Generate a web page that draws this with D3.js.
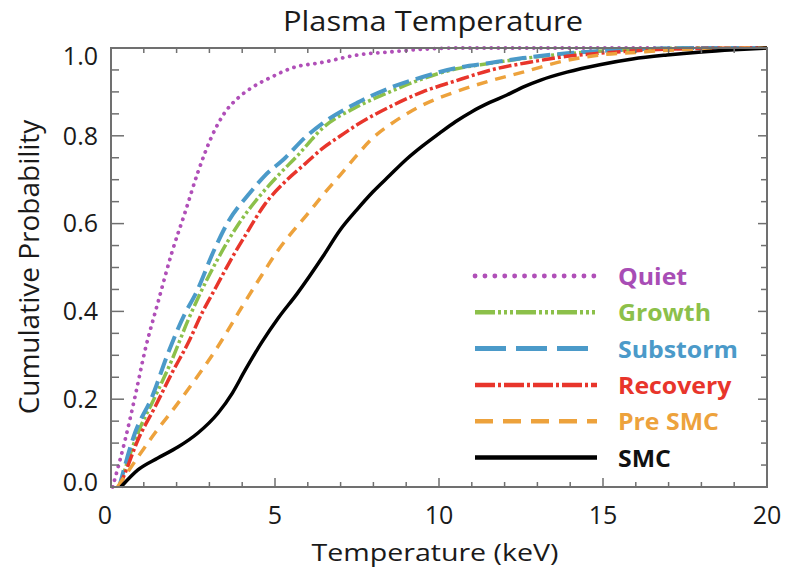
<!DOCTYPE html>
<html>
<head>
<meta charset="utf-8">
<script src="https://cdn.jsdelivr.net/npm/d3@7"></script>
<style>
  body { margin: 0; background: #fff; }
  text { font-family: "Open Sans", "Noto Sans", sans-serif; }
</style>
</head>
<body>
<div id="chart"></div>
<script>
// temperature (keV) and cumulative probability for each phase
const quietT = [0.05, 0.43, 0.73, 1.04, 1.43, 1.86, 2.26, 2.65, 3.08, 3.48, 3.87, 4.3, 4.9, 5.5, 6.5, 7.5, 8.5, 9.5, 10.5, 20];
const quietP = [0, 0.107, 0.205, 0.312, 0.42, 0.535, 0.626, 0.717, 0.80, 0.854, 0.886, 0.91, 0.934, 0.954, 0.968, 0.984, 0.991, 0.997, 1.0, 1.0];

const growthT = [0.25, 0.82, 1.34, 1.86, 2.35, 2.65, 3.26, 3.87, 4.48, 5.1, 5.7, 6.46, 7.5, 8.5, 9.5, 10.5, 11.55, 12.56, 13.9, 15, 16, 18, 20];
const growthP = [0, 0.123, 0.205, 0.29, 0.38, 0.43, 0.52, 0.597, 0.658, 0.71, 0.756, 0.818, 0.866, 0.9, 0.93, 0.952, 0.965, 0.976, 0.987, 0.993, 0.997, 1.0, 1.0];

const substormT = [0.25, 0.73, 1.25, 1.74, 2.26, 2.56, 3.17, 3.57, 4.18, 4.7, 5.3, 5.9, 6.46, 7.5, 8.5, 9.5, 10.5, 11.55, 12.56, 13.9, 14.9, 16, 18, 20];
const substormP = [0, 0.123, 0.205, 0.305, 0.396, 0.437, 0.544, 0.604, 0.665, 0.71, 0.749, 0.795, 0.829, 0.875, 0.909, 0.934, 0.954, 0.966, 0.977, 0.988, 0.993, 0.997, 1.0, 1.0];

const recoveryT = [0.25, 0.43, 0.82, 1.34, 1.86, 2.35, 2.8, 3.2, 3.65, 4.15, 4.7, 5.3, 5.9, 6.46, 7.0, 7.5, 8.5, 9.5, 10.5, 11.7, 12.8, 13.9, 14.9, 16, 18, 20];
const recoveryP = [0, 0.032, 0.107, 0.182, 0.26, 0.328, 0.40, 0.455, 0.517, 0.58, 0.645, 0.695, 0.735, 0.772, 0.80, 0.825, 0.866, 0.9, 0.925, 0.952, 0.968, 0.981, 0.988, 0.994, 0.999, 1.0];

const preSmcT = [0.2, 0.82, 1.34, 1.95, 2.56, 3.26, 3.99, 4.6, 5.1, 5.46, 5.97, 6.46, 6.98, 7.5, 7.98, 8.5, 9.5, 10.5, 11.55, 12.56, 13.9, 14.9, 16, 17, 18, 20];
const preSmcP = [0, 0.068, 0.123, 0.182, 0.244, 0.32, 0.41, 0.483, 0.54, 0.575, 0.62, 0.665, 0.71, 0.756, 0.795, 0.825, 0.87, 0.9, 0.925, 0.945, 0.972, 0.984, 0.99, 0.995, 0.998, 1.0];

const smcT = [0.3, 0.82, 1.43, 2.04, 2.65, 3.26, 3.7, 4.09, 4.6, 5.1, 5.67, 6.46, 6.98, 7.5, 7.98, 8.5, 9.0, 9.5, 10.0, 10.5, 11.0, 11.55, 12.07, 12.56, 13.1, 13.9, 14.9, 15.9, 16.95, 18, 19, 20];
const smcP = [0, 0.039, 0.066, 0.091, 0.123, 0.168, 0.214, 0.266, 0.33, 0.385, 0.44, 0.525, 0.585, 0.632, 0.672, 0.71, 0.746, 0.777, 0.805, 0.832, 0.855, 0.876, 0.893, 0.911, 0.927, 0.945, 0.962, 0.975, 0.984, 0.991, 0.996, 1.0];

const seriesNames = ["Quiet", "Growth", "Substorm", "Recovery", "Pre SMC", "SMC"];
const seriesT = [quietT, growthT, substormT, recoveryT, preSmcT, smcT];
const seriesP = [quietP, growthP, substormP, recoveryP, preSmcP, smcP];

const xTicks = [0, 5, 10, 15, 20];
const yTicks = [0, 0.2, 0.4, 0.6, 0.8, 1.0];

const width = 793, height = 573;
const margin = { top: 48, right: 26, bottom: 86, left: 111 };
const innerW = width - margin.left - margin.right;
const innerH = height - margin.top - margin.bottom;

// line looks for each series (plot + legend)
const styles = [
    { color: "#b04fb8", w: 3.8, dash: "0.1 7", legDash: "0.1 9.8", cap: "round" },
    { color: "#8cc04a", w: 3.5, dash: "13 3 3 3 3 3", legDash: "20 3 3 3 3 3 3 3", cap: "butt" },
    { color: "#4b9ac9", w: 4, dash: "17 7", legDash: "31 10", cap: "butt" },
    { color: "#e8352b", w: 3.5, dash: "13 3 3 3", legDash: "20 3 3 3", cap: "butt" },
    { color: "#eda23c", w: 3.5, dash: "11 8", legDash: "18 10", cap: "butt" },
    { color: "#000000", w: 3.5, dash: null, legDash: null, cap: "butt" }
];
const textColors = ["#a84db5", "#8cc04a", "#4b9ac9", "#e8352b", "#eda23c", "#111111"];

const svg = d3.select("#chart").append("svg")
    .attr("width", width)
    .attr("height", height);

const g = svg.append("g").attr("transform", `translate(${margin.left},${margin.top})`);

const x = d3.scaleLinear().domain([0, 20]).range([0, innerW]);
const y = d3.scaleLinear().domain([0, 1]).range([innerH, 0]);

const frame = "#707070";

// curves
const line = d3.line()
    .x(d => x(d[0]))
    .y(d => y(d[1]))
    .curve(d3.curveMonotoneX);

seriesNames.forEach((name, i) => {
    const pts = seriesT[i].map((t, j) => [t, seriesP[i][j]]);
    g.append("path")
        .datum(pts)
        .attr("fill", "none")
        .attr("stroke", styles[i].color)
        .attr("stroke-width", styles[i].w)
        .attr("stroke-linecap", styles[i].cap)
        .attr("stroke-dasharray", styles[i].dash)
        .attr("d", line);
});

// ticks inside the frame
const minorX = d3.range(0, 21, 1);
const minorY = d3.range(0, 1.0001, 0.05);

g.selectAll(".xb").data(minorX).enter().append("line")
    .attr("x1", d => x(d)).attr("x2", d => x(d))
    .attr("y1", innerH).attr("y2", d => innerH - (d % 5 === 0 ? 9 : 5))
    .attr("stroke", frame).attr("stroke-width", 1.5);

g.selectAll(".xt").data(minorX).enter().append("line")
    .attr("x1", d => x(d)).attr("x2", d => x(d))
    .attr("y1", 0).attr("y2", 5)
    .attr("stroke", frame).attr("stroke-width", 1.5);

g.selectAll(".yl").data(minorY).enter().append("line")
    .attr("y1", d => y(d)).attr("y2", d => y(d))
    .attr("x1", 0).attr("x2", (d, i) => i % 4 === 0 ? 13 : 8)
    .attr("stroke", frame).attr("stroke-width", 1.5);

g.selectAll(".yr").data(minorY).enter().append("line")
    .attr("y1", d => y(d)).attr("y2", d => y(d))
    .attr("x1", innerW).attr("x2", (d, i) => innerW - (i % 4 === 0 ? 9 : 6))
    .attr("stroke", frame).attr("stroke-width", 1.5);

g.append("rect")
    .attr("width", innerW).attr("height", innerH)
    .attr("fill", "none")
    .attr("stroke", frame).attr("stroke-width", 2);

// tick labels
g.selectAll(".xlab").data(xTicks).enter().append("text")
    .attr("x", d => x(d) + (d === 0 ? -6 : 0))
    .attr("y", innerH + 37)
    .attr("text-anchor", "middle")
    .style("font-size", "25px")
    .attr("fill", "#1a1a1a")
    .text(d => d);

g.selectAll(".ylab").data(yTicks).enter().append("text")
    .attr("x", -13)
    .attr("y", d => y(d) + (d === 1 ? 8 : d === 0 ? -5 : 0))
    .attr("dy", "0.35em")
    .attr("text-anchor", "end")
    .style("font-size", "25px")
    .attr("fill", "#1a1a1a")
    .text(d => d.toFixed(1));

// titles (the source font is wider than ours, so stretch a little)
svg.append("text")
    .attr("transform", "translate(433,31) scale(1.1,1)")
    .attr("text-anchor", "middle")
    .style("font-size", "28px")
    .attr("fill", "#1a1a1a")
    .text("Plasma Temperature");

svg.append("text")
    .attr("transform", "translate(435,561) scale(1.19,1)")
    .attr("text-anchor", "middle")
    .style("font-size", "24px")
    .attr("fill", "#1a1a1a")
    .text("Temperature (keV)");

svg.append("text")
    .attr("transform", "translate(39,267) rotate(-90)")
    .attr("text-anchor", "middle")
    .style("font-size", "28px")
    .attr("fill", "#1a1a1a")
    .text("Cumulative Probability");

// legend
const legend = svg.append("g").attr("transform", "translate(475,276)");
seriesNames.forEach((name, i) => {
    const row = legend.append("g").attr("transform", `translate(0,${i * 36.3})`);
    row.append("line")
        .attr("x1", 0).attr("x2", 122)
        .attr("y1", 0).attr("y2", 0)
        .attr("stroke", styles[i].color)
        .attr("stroke-width", styles[i].w + 1)
        .attr("stroke-linecap", styles[i].cap)
        .attr("stroke-dasharray", styles[i].legDash);
    row.append("text")
        .attr("transform", "translate(143,1) scale(1.08,1)")
        .attr("dy", "0.35em")
        .style("font-size", "23px")
        .style("font-weight", "bold")
        .attr("fill", textColors[i])
        .text(name);
});
</script>
</body>
</html>
